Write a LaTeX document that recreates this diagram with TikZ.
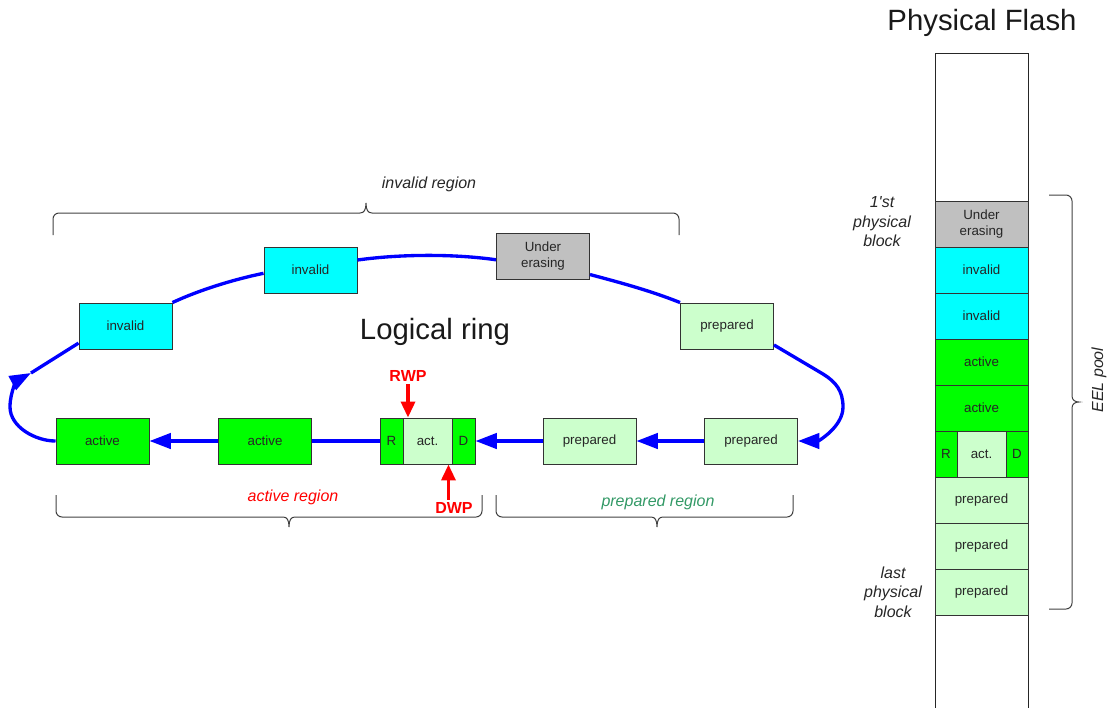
\documentclass[tikz,border=0pt]{standalone}
\usepackage{fontspec}
\setmainfont{Liberation Sans}
\usetikzlibrary{arrows.meta}
\definecolor{actg}{HTML}{00FF00}
\definecolor{invc}{HTML}{00FFFF}
\definecolor{prepg}{HTML}{CCFFCC}
\definecolor{ersg}{HTML}{C0C0C0}
\definecolor{ringblue}{HTML}{0000FF}
\definecolor{prepc}{HTML}{339966}
\tikzset{
  blk/.style={draw=black!80, line width=0.7pt, minimum width=69.75pt, minimum height=34.5pt,
    inner sep=0pt, font=\fontsize{10}{12}\selectfont, text=black!85, align=center},
  blkA/.style={blk, fill=actg},
  blkI/.style={blk, fill=invc},
  blkP/.style={blk, fill=prepg},
  blkE/.style={blk, fill=ersg},
  conn/.style={draw=ringblue, line width=2.5pt},
  arrowend/.style={-{Triangle[length=16pt,width=11.5pt]}},
  ptr/.style={draw=red, line width=2.6pt, -{Triangle[length=12pt,width=10.5pt]}},
  ptrlbl/.style={text=red, font=\fontsize{12}{14}\selectfont\bfseries, inner sep=2pt},
  brc/.style={draw=black!75, line width=0.75pt},
  rlbl/.style={font=\fontsize{12}{14.6}\selectfont\itshape, align=center, text=black!85},
  big/.style={font=\fontsize{22}{26}\selectfont, text=black!90},
  flash/.style={draw=black!85, line width=0.75pt}
}
\begin{document}
\begin{tikzpicture}[x=0.75pt,y=-0.75pt]
\useasboundingbox (0,0) rectangle (1113,707);

% ---- logical ring blocks ----
\node[blkA] (a1) at (102.5,441) {active};
\node[blkA] (a2) at (265,441) {active};
\node[blkA, minimum width=17.25pt] (rb) at (391.5,441) {R};
\node[blkP, minimum width=36.75pt] (ab) at (427.5,441) {act.};
\node[blkA, minimum width=17.25pt] (db) at (463.5,441) {D};
\node[blkP] (p1) at (589.5,441) {prepared};
\node[blkP] (p2) at (751,441) {prepared};
\node[blkI] (i1) at (125.5,326) {invalid};
\node[blkI] (i2) at (310.5,270) {invalid};
\node[blkE] (ue) at (543,256.5) {Under\\erasing};
\node[blkP] (pt) at (727,326) {prepared};

% ---- ring connectors ----
\draw[conn, arrowend] (p2.west) -- (p1.east);
\draw[conn, arrowend] (p1.west) -- (db.east);
\draw[conn] (rb.west) -- (a2.east);
\draw[conn, arrowend] (a2.west) -- (a1.east);
\coordinate (m1) at (10,407);
\coordinate (c1) at (31,373);
\draw[conn, arrowend] (a1.west) .. controls +(-20,0) and +(0,20) .. (m1)
      .. controls +(0,-16) and +(-13,7) .. (c1);
\draw[conn] (c1) -- (i1.200);
\draw[conn] (i1.north east) .. controls +(28,-13) and +(-29,6) .. (i2.184);
\draw[conn] (i2.12) .. controls +(43,-6) and +(-42,-6) .. (ue.184);
\draw[conn] (ue.-21) .. controls +(30,8) and +(-30,-12) .. (pt.north west);
\coordinate (c2) at (823,374);
\coordinate (m2) at (843,407);
\draw[conn, arrowend] (pt.-22) -- (c2) .. controls +(13,8) and +(0,-16) .. (m2)
      .. controls +(0,20) and +(20,0) .. (p2.east);

% ---- pointers ----
\node[ptrlbl] (rwp) at (408,376) {RWP};
\node[ptrlbl] (dwp) at (454,508) {DWP};
\draw[ptr] (rwp.south) -- (rwp.south |- ab.north);
\coordinate (dwpt) at ([xshift=-3pt]ab.south east);
\draw[ptr] (dwp.north -| dwpt) -- (dwpt);

% ---- titles and region labels ----
\node[big] (lr) at (435,332) {Logical ring};
\node[big] (pf) at (982,23) {Physical Flash};
\node[rlbl] (ir) at (429,184) {invalid region};
\node[rlbl, text=red] (arl) at (293,497) {active region};
\node[rlbl, text=prepc] (prl) at (658,502) {prepared region};

% ---- braces ----
\draw[brc] (53,235) -- (53,219) .. controls (53,215.7) and (55.7,213) .. (59,213) -- (360,213)
  .. controls (364,213) and (366,210) .. (366,203) .. controls (366,210) and (368,213) .. (372,213)
  -- (673,213) .. controls (676.3,213) and (679,215.7) .. (679,219) -- (679,235);
\draw[brc] (56,495) -- (56,511) .. controls (56,514.3) and (58.7,517) .. (62,517) -- (283,517)
  .. controls (287,517) and (289,520) .. (289,527) .. controls (289,520) and (291,517) .. (295,517)
  -- (476,517) .. controls (479.3,517) and (482,514.3) .. (482,511) -- (482,495);
\draw[brc] (496,495) -- (496,511) .. controls (496,514.3) and (498.7,517) .. (502,517) -- (651,517)
  .. controls (655,517) and (657,520) .. (657,527) .. controls (657,520) and (659,517) .. (663,517)
  -- (787,517) .. controls (790.3,517) and (793,514.3) .. (793,511) -- (793,495);
\draw[brc] (1049,195) -- (1066,195) .. controls (1069.3,195) and (1072,197.7) .. (1072,201) -- (1072,396)
  .. controls (1072,400) and (1075,402) .. (1079,402) .. controls (1075,402) and (1072,404) .. (1072,408)
  -- (1072,603) .. controls (1072,606.3) and (1069.3,609) .. (1066,609) -- (1049,609);

% ---- physical flash column ----
\draw[flash] (935,708) -- (935,53) -- (1028,53) -- (1028,708);
\node[blkE] (f1) at (981.5,224) {Under\\erasing};
\node[blkI] (f2) at (981.5,270) {invalid};
\node[blkI] (f3) at (981.5,316) {invalid};
\node[blkA] (f4) at (981.5,362) {active};
\node[blkA] (f5) at (981.5,408) {active};
\node[blkA, minimum width=16.5pt] (fR) at (946,454) {R};
\node[blkP, minimum width=36.75pt] (fA) at (981.5,454) {act.};
\node[blkA, minimum width=16.5pt] (fD) at (1017,454) {D};
\node[blkP] (f6) at (981.5,500) {prepared};
\node[blkP] (f7) at (981.5,546) {prepared};
\node[blkP] (f8) at (981.5,592) {prepared};

\node[rlbl] (fb) at (882,222) {1\textquotesingle st\\physical\\block};
\node[rlbl] (lb) at (893,592) {last\\physical\\block};
\node[rlbl, rotate=90] (eel) at (1099,380) {EEL pool};
\end{tikzpicture}
\end{document}
